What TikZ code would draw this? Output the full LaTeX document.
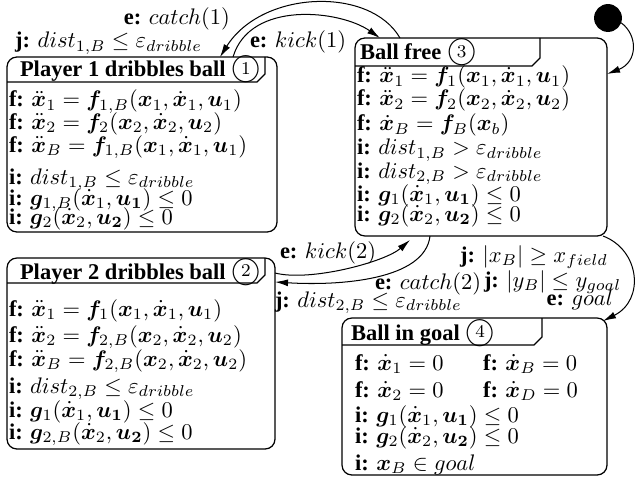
\documentclass[tikz,border=0pt]{standalone}
\usepackage{amsmath,bm}
\usepackage[no-math]{fontspec}
\setmainfont{Liberation Serif}
\usetikzlibrary{arrows.meta,fit}
\newcommand\fs{\fontsize{10}{12}\selectfont}
\newcommand\cnum[1]{\ooalign{\scalebox{1.3}{$\bigcirc$}\cr\hidewidth\raisebox{0.25ex}{\normalfont\fontsize{8}{8}\selectfont$#1$}\hidewidth\cr}}
\newcommand\F{\textbf{f:} }
\newcommand\I{\textbf{i:} }
\newcommand\J{\textbf{j:} }
\newcommand\E{\textbf{e:} }
\tikzset{
  every node/.style={inner sep=0pt, outer sep=0pt, font=\fs},
  box/.style={draw, rounded corners=4.4pt, line width=0.55pt, inner sep=0pt},
  tabline/.style={draw, line width=0.55pt},
  ln/.style={anchor=base west},
  lnr/.style={anchor=base east},
  hdr/.style={anchor=base west, font=\fs\bfseries},
  arr/.style={-{Latex[length=5.8pt,width=3.1pt]}, line width=0.45pt},
}
\begin{document}
\begin{tikzpicture}[x=0.4444pt,y=-0.4444pt]
\useasboundingbox (0,0) rectangle (636,479);
% boxes
\node[box, fit={(7,57)(277,232)}] (s1) {};
\node[box, fit={(355,38)(607,236)}] (s3) {};
\node[box, fit={(7,258)(275,449)}] (s2) {};
\node[box, fit={(342,318)(607,475)}] (s4) {};
% tabs
\draw[tabline] (265,0 |- s1.north) -- (265,74) -- (257,82) -- (s1.west |- 0,82);
\draw[tabline] (540,0 |- s3.north) -- (540,58) -- (532,66) -- (s3.west |- 0,66);
\draw[tabline] (265,0 |- s2.north) -- (265,275) -- (257,283) -- (s2.west |- 0,283);
\draw[tabline] (542,0 |- s4.north) -- (542,337) -- (534,345) -- (s4.west |- 0,345);
% headers
\node[hdr] (h1) at (20,77) {Player 1 dribbles ball \cnum{1}};
\node[hdr] (h3) at (360,60) {Ball free \cnum{3}};
\node[hdr] (h2) at (20,279) {Player 2 dribbles ball \cnum{2}};
\node[hdr] (h4) at (351,340) {Ball in goal \cnum{4}};
% box 1
\node[ln] (s1a) at (9,107) {\F$\ddot{\bm x}_1=\bm f_{1,B}(\bm x_1,\dot{\bm x}_1,\bm u_1)$};
\node[ln] (s1b) at (9,129) {\F$\ddot{\bm x}_2=\bm f_{2}(\bm x_2,\dot{\bm x}_2,\bm u_2)$};
\node[ln] (s1c) at (9,152) {\F$\ddot{\bm x}_B=\bm f_{1,B}(\bm x_1,\dot{\bm x}_1,\bm u_1)$};
\node[ln] (s1d) at (9,184) {\I$dist_{1,B}\le\varepsilon_{dribble}$};
\node[ln] (s1e) at (9,205) {\I$\bm g_{1,B}(\dot{\bm x}_1,\bm{u_1})\le 0$};
\node[ln] (s1f) at (9,224) {\I$\bm g_{2}(\dot{\bm x}_2,\bm{u_2})\le 0$};
% box 3
\node[ln] (s3a) at (357,83) {\F$\ddot{\bm x}_1=\bm f_{1}(\bm x_1,\dot{\bm x}_1,\bm u_1)$};
\node[ln] (s3b) at (357,106) {\F$\ddot{\bm x}_2=\bm f_{2}(\bm x_2,\dot{\bm x}_2,\bm u_2)$};
\node[ln] (s3c) at (357,131) {\F$\dot{\bm x}_B=\bm f_{B}(\bm x_b)$};
\node[ln] (s3d) at (357,155) {\I$dist_{1,B}>\varepsilon_{dribble}$};
\node[ln] (s3e) at (357,178) {\I$dist_{2,B}>\varepsilon_{dribble}$};
\node[ln] (s3f) at (357,201) {\I$\bm g_{1}(\dot{\bm x}_1,\bm{u_1})\le 0$};
\node[ln] (s3g) at (357,221) {\I$\bm g_{2}(\dot{\bm x}_2,\bm{u_2})\le 0$};
% box 2
\node[ln] (s2a) at (9,316) {\F$\ddot{\bm x}_1=\bm f_{1}(\bm x_1,\dot{\bm x}_1,\bm u_1)$};
\node[ln] (s2b) at (9,342) {\F$\ddot{\bm x}_2=\bm f_{2,B}(\bm x_2,\dot{\bm x}_2,\bm u_2)$};
\node[ln] (s2c) at (9,366) {\F$\ddot{\bm x}_B=\bm f_{2,B}(\bm x_2,\dot{\bm x}_2,\bm u_2)$};
\node[ln] (s2d) at (9,393) {\I$dist_{2,B}\le\varepsilon_{dribble}$};
\node[ln] (s2e) at (9,417) {\I$\bm g_{1}(\dot{\bm x}_1,\bm{u_1})\le 0$};
\node[ln] (s2f) at (9,439) {\I$\bm g_{2,B}(\dot{\bm x}_2,\bm{u_2})\le 0$};
% box 4
\node[ln] (s4a) at (355,370) {\F$\dot{\bm x}_1=0$};
\node[ln] (s4b) at (483,370) {\F$\dot{\bm x}_B=0$};
\node[ln] (s4c) at (355,397) {\F$\dot{\bm x}_2=0$};
\node[ln] (s4d) at (483,397) {\F$\dot{\bm x}_D=0$};
\node[ln] (s4e) at (355,422) {\I$\bm g_{1}(\dot{\bm x}_1,\bm{u_1})\le 0$};
\node[ln] (s4f) at (355,443) {\I$\bm g_{2}(\dot{\bm x}_2,\bm{u_2})\le 0$};
\node[ln] (s4g) at (355,470) {\I$\bm x_B\in goal$};
% labels
\node[lnr] (lc1) at (230,25) {\E$catch(1)$};
\node[lnr] (lj1) at (202,48) {\J$dist_{1,B}\le\varepsilon_{dribble}$};
\node[ln] (lk1) at (250,48) {\E$kick(1)$};
\node[ln] (lk2) at (280,258) {\E$kick(2)$};
\node[ln] (lc2) at (375,289) {\E$catch(2)$};
\node[ln] (lj2) at (275,307) {\J$dist_{2,B}\le\varepsilon_{dribble}$};
\node[lnr] (lj3) at (608,262) {\J$|x_B|\ge x_{field}$};
\node[ln] (lj4) at (484,287) {\J$|y_B|\le y_{goal}$};
\node[lnr] (le) at (613,305) {\E$goal$};
% initial state
\node[circle, fill, minimum size=12.4pt] (init) at (608,18) {};
\coordinate (k2) at (410,240);
\coordinate (g4) at (603,321);
% connectors
\draw[arr] (400,0 |- s3.north) .. controls (370,-14) and (262,-10) .. (220,0 |- s1.north);
\draw[arr] (233,0 |- s1.north) .. controls (250,0) and (340,10) .. (380,0 |- s3.north);
\draw[arr] (s2.east |- 0,273) .. controls (310,282) and (385,262) .. (k2);
\draw[arr] (430,0 |- s3.south) .. controls (425,280) and (340,286) .. (s2.east |- 0,282);
\draw[arr] (603,0 |- s3.south) .. controls (640,250) and (645,300) .. (g4);
\draw[arr] (init.-20) .. controls (638,35) and (638,62) .. (s3.east |- 0,74);
\end{tikzpicture}
\end{document}
